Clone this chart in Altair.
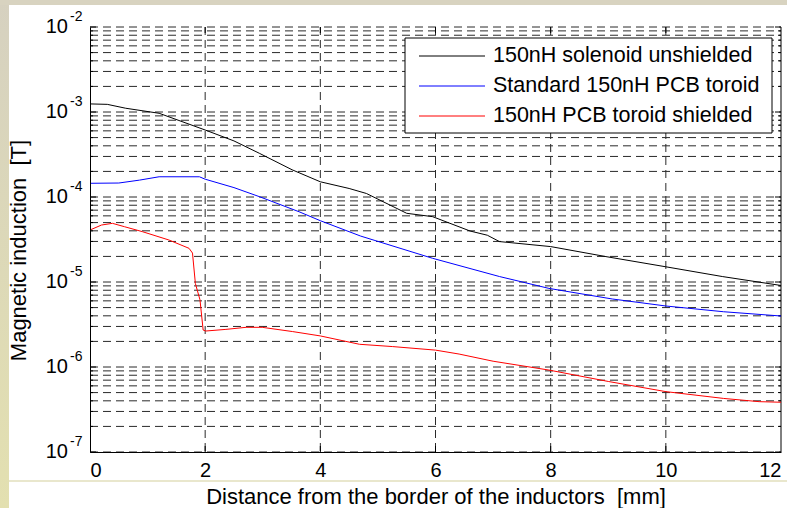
import altair as alt
import pandas as pd

FONT = "Liberation Sans"

# ---- data ----
series_names = ["150nH solenoid unshielded", "Standard 150nH PCB toroid", "150nH PCB toroid shielded"]
series_colors = ["#000000", "#0000ff", "#ff0000"]

x_black = [0, 0.3, 0.62, 1.2, 2.0, 2.5, 2.94, 3.51, 4.0, 4.5, 4.8, 5.5, 5.95, 6.6, 6.9, 7.11, 8.0, 8.96, 10.0, 10.98, 12.0]
b_black = [1.245e-3, 1.23e-3, 1.107e-3, 9.66e-4, 6.14e-4, 4.57e-4, 3.27e-4, 2.09e-4, 1.51e-4, 1.26e-4, 1.10e-4,
           6.43e-5, 5.87e-5, 3.98e-5, 3.55e-5, 2.99e-5, 2.61e-5, 1.99e-5, 1.51e-5, 1.16e-5, 9.1e-6]

x_blue = [0, 0.5, 0.86, 1.2, 1.9, 2.0, 2.5, 2.94, 3.63, 4.0, 4.7, 5.95, 7.11, 7.97, 9.07, 10.0, 11.0, 12.0]
b_blue = [1.45e-4, 1.46e-4, 1.58e-4, 1.73e-4, 1.73e-4, 1.62e-4, 1.29e-4, 1.01e-4, 6.71e-5, 5.26e-5, 3.47e-5,
          1.90e-5, 1.16e-5, 8.41e-6, 6.31e-6, 5.22e-6, 4.47e-6, 3.98e-6]

x_red = [0, 0.2, 0.39, 0.6, 0.91, 1.37, 1.72, 1.78, 1.83, 1.91, 1.965, 2.01, 2.36, 2.71, 2.99, 3.52, 4.0, 4.68,
         5.25, 6.0, 6.41, 7.0, 7.97, 9.0, 10.0, 11.0, 11.62, 12.0]
b_red = [4.09e-5, 4.68e-5, 4.90e-5, 4.47e-5, 3.91e-5, 3.12e-5, 2.49e-5, 2.19e-5, 9.6e-6, 6.17e-6, 2.72e-6,
         2.65e-6, 2.77e-6, 2.93e-6, 2.93e-6, 2.61e-6, 2.32e-6, 1.85e-6, 1.74e-6, 1.58e-6, 1.42e-6, 1.17e-6,
         9.2e-7, 6.76e-7, 5.13e-7, 4.27e-7, 3.91e-7, 3.85e-7]

x_ticks = [0, 2, 4, 6, 8, 10, 12]
x_grid = [2, 4, 6, 8, 10]
decades = [1e-7, 1e-6, 1e-5, 1e-4, 1e-3, 1e-2]
exponents = ["-7", "-6", "-5", "-4", "-3", "-2"]
minor_mult = [2, 3, 4, 5, 6, 7, 8, 9]

x_title = "Distance from the border of the inductors\u00a0 [mm]"
y_title = "Magnetic induction\u00a0 [T]"

# ---- tables ----
rows = []
for name, xs, bs in zip(series_names, [x_black, x_blue, x_red], [b_black, b_blue, b_red]):
    for xv, bv in zip(xs, bs):
        rows.append({"x": xv, "v": bv, "series": name})
df = pd.DataFrame(rows)

minor_vals = [m * d for d in decades[:-1] for m in minor_mult]
hgrid = pd.DataFrame({"v": decades + minor_vals})
vgrid = pd.DataFrame({"x": x_grid})
dec_df = pd.DataFrame({"v": decades, "exp": exponents})
minor_df = pd.DataFrame({"v": minor_vals})

W, H = 691, 425
xscale = alt.Scale(domain=[0, 12], nice=False, zero=False)
yscale = alt.Scale(type="log", domain=[1e-7, 1e-2], nice=False)

x_axis = alt.Axis(values=x_ticks, format="d", grid=False, ticks=False, domainColor="black",
                  labelFontSize=20, labelFont=FONT, labelColor="black", labelPadding=8,
                  titleFontSize=22, titleFont=FONT, titleFontWeight="normal", titleColor="black",
                  titleY=51, titleBaseline="alphabetic", zindex=1)
y_axis = alt.Axis(labels=False, ticks=False, grid=False, domainColor="black",
                  titleFontSize=22, titleFont=FONT, titleFontWeight="normal",
                  titleColor="black", titleX=-65, titleY=223, titleBaseline="alphabetic", zindex=1)
X = alt.X("x:Q", scale=xscale, title=x_title, axis=x_axis)
Y = alt.Y("v:Q", scale=yscale, title=y_title, axis=y_axis)

one = alt.Data(values=[{}])
GRID = dict(color="#2a2a2a", strokeWidth=1, strokeDash=[8, 5])

# decorations (page background bits)
left_strip = alt.Chart(one).mark_rect(
    color=alt.Gradient(gradient="linear",
                       stops=[alt.GradientStop(color="#d6d1c0", offset=0),
                              alt.GradientStop(color="#e3e0b0", offset=1)],
                       x1=0, x2=0, y1=0, y2=1)
).encode(x=alt.value(-90), x2=alt.value(-81), y=alt.value(-27), y2=alt.value(481))
top_strip = alt.Chart(one).mark_rect(color="#d8d3c0").encode(
    x=alt.value(-90), x2=alt.value(697), y=alt.value(-27), y2=alt.value(-22))
sep_line = alt.Chart(one).mark_rule(color="#e2dfbd", strokeWidth=1.5).encode(
    x=alt.value(-81), x2=alt.value(697), y=alt.value(454))

# grid
hg = alt.Chart(hgrid).mark_rule(**GRID).encode(y=Y, x=alt.value(0), x2=alt.value(W))
vg = alt.Chart(vgrid).mark_rule(**GRID).encode(x=X, y=alt.value(0), y2=alt.value(H))

# ticks (inward)
tb = alt.Chart(vgrid).mark_rule(color="black").encode(x=X, y=alt.value(H), y2=alt.value(H - 6))
tt = alt.Chart(vgrid).mark_rule(color="black").encode(x=X, y=alt.value(0), y2=alt.value(6))
tl = alt.Chart(dec_df).mark_rule(color="black").encode(y=Y, x=alt.value(0), x2=alt.value(6))
tr = alt.Chart(dec_df).mark_rule(color="black").encode(y=Y, x=alt.value(W), x2=alt.value(W - 6))
tlm = alt.Chart(minor_df).mark_rule(color="black").encode(y=Y, x=alt.value(0), x2=alt.value(3))
trm = alt.Chart(minor_df).mark_rule(color="black").encode(y=Y, x=alt.value(W), x2=alt.value(W - 3))
right_edge = alt.Chart(one).mark_rule(color="black").encode(x=alt.value(W), y=alt.value(0), y2=alt.value(H))

# data lines
lines = alt.Chart(df).mark_line(strokeWidth=1).encode(
    x=X, y=Y,
    color=alt.Color("series:N", scale=alt.Scale(domain=series_names, range=series_colors), legend=None),
    detail="series:N",
)

# y tick labels 10^k
ten = alt.Chart(dec_df).mark_text(align="right", baseline="middle", fontSize=20, font=FONT, color="black").encode(
    y=Y, x=alt.value(-22), text=alt.value("10"))
sup = alt.Chart(dec_df).mark_text(align="left", baseline="middle", fontSize=14, font=FONT, color="black", dy=-10).encode(
    y=Y, x=alt.value(-20), text="exp:N")

# legend
leg_box = alt.Chart(one).mark_rect(fill="white", stroke="black", strokeWidth=1).encode(
    x=alt.value(315), x2=alt.value(682), y=alt.value(11), y2=alt.value(106))
leg_layers = []
for i, (name, col) in enumerate(zip(series_names, series_colors)):
    yy = 29 + 30 * i
    leg_layers.append(alt.Chart(one).mark_rule(color=col, strokeWidth=1).encode(
        x=alt.value(329), x2=alt.value(395), y=alt.value(yy)))
    leg_layers.append(alt.Chart(one).mark_text(align="left", baseline="middle", fontSize=21.5, font=FONT,
                                               color="black", text=name).encode(
        x=alt.value(403), y=alt.value(yy)))

chart = alt.layer(
    left_strip, top_strip, sep_line, hg, vg, tb, tt, tl, tr, tlm, trm, right_edge, lines, ten, sup, leg_box,
    *leg_layers
).properties(
    width=W, height=H,
    padding={"left": 90, "top": 27, "right": 6, "bottom": 56},
    autosize=alt.AutoSizeParams(type="none"),
    background="white",
).configure_view(stroke=None)

chart.save("out.html", embed_options={"renderer": "svg", "actions": False})
